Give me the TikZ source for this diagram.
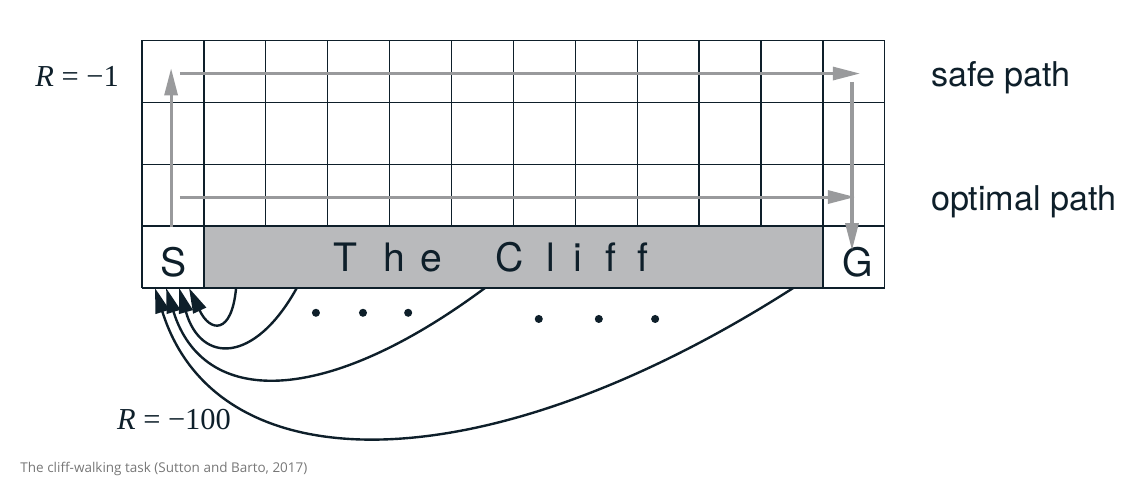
\documentclass[tikz,border=0pt]{standalone}
\usepackage{fontspec}
\newfontfamily\helv{TeX Gyre Heros}
\newfontfamily\tms{Liberation Serif}
\newfontfamily\capfont{Open Sans}
\usetikzlibrary{arrows.meta}
\definecolor{ink}{HTML}{0E1F2A}
\definecolor{cliffgray}{HTML}{B9BABC}
\definecolor{pathgray}{HTML}{999A9C}
\definecolor{capgray}{HTML}{777777}
\tikzset{
  walk/.style={draw=pathgray,line width=1.4pt,-{Triangle[length=12.5pt,width=6pt]}},
  fall/.style={draw=ink,line width=1.1pt,-{Triangle[length=11.5pt,width=6.4pt]}},
  cellText/.style={font=\helv\fontsize{18}{18}\selectfont,text=ink,inner sep=0pt,anchor=base},
  pathLabel/.style={font=\helv\fontsize{15.7}{16}\selectfont,text=ink,inner sep=0pt,anchor=base west},
  reward/.style={font=\tms\fontsize{14}{14}\selectfont,text=ink,inner sep=0pt,anchor=base west}
}

\begin{document}
\begin{tikzpicture}
      \useasboundingbox (-2.294,-3.118) rectangle (16.042,4.653);
      % the grid and the cliff
      \draw[ink,line width=0.6pt] (0,0) grid (12,4);
      \filldraw[fill=cliffgray,draw=ink,line width=0.6pt] (1,0) rectangle (11,1);
      \node[cellText] (start) at (0.51,0.18) {S};
      \node[cellText] (goal) at (11.56,0.18) {G};
      \foreach \x/\c [count=\i] in {3.08/T,3.89/h,4.49/e,5.70/C,6.52/l,6.97/i,7.48/f,8.00/f}
        \node[cellText,anchor=base west] (cliff\i) at (\x,0.26) {\c};
      % labels
      \node[pathLabel] (safe) at (12.74,3.25) {safe path};
      \node[pathLabel] (optimal) at (12.74,1.26) {optimal path};
      \node[reward] (rstep) at (-1.73,3.25) {\textit{R} = −1};
      \node[reward] (rfall) at (-0.41,-2.29) {\textit{R} = −100};
      \node[font=\capfont\fontsize{6.2}{7}\selectfont,text=capgray,anchor=base west,inner sep=0pt]
        (caption) at (-1.97,-2.98) {The cliff-walking task (Sutton and Barto, 2017)};
      % safe and optimal paths
      \coordinate (up0) at (0.47,0.985);
      \coordinate (up1) at (0.47,3.55);
      \coordinate (top0) at (0.61,3.465);
      \coordinate (top1) at (11.60,3.465);
      \coordinate (down0) at (11.47,3.33);
      \coordinate (down1) at (11.47,0.61);
      \coordinate (opt0) at (0.61,1.47);
      \coordinate (opt1) at (11.52,1.47);
      \draw[walk] (up0) -- (up1);
      \draw[walk] (top0) -- (top1);
      \draw[walk] (down0) -- (down1);
      \draw[walk] (opt0) -- (opt1);
      % falling off the cliff
      \coordinate (drop1) at (1.52,0);
      \coordinate (drop2) at (2.50,0);
      \coordinate (drop3) at (5.54,0);
      \coordinate (drop4) at (10.52,0);
      \coordinate (back1) at (0.76,0);
      \coordinate (back2) at (0.60,0);
      \coordinate (back3) at (0.39,0);
      \coordinate (back4) at (0.21,0);
      \draw[fall] (drop1) .. controls (1.45,-0.76) and (1.10,-0.72) .. (back1);
      \draw[fall] (drop2) .. controls (1.82,-1.23) and (0.95,-1.23) .. (back2);
      \draw[fall] (drop3) .. controls (2.94,-1.93) and (0.99,-1.93) .. (back3);
      \draw[fall] (drop4) .. controls (5.52,-3.20) and (1.21,-3.20) .. (back4);
      \foreach \x/\y in {2.81/-0.40,3.57/-0.40,4.30/-0.40,6.41/-0.50,7.38/-0.50,8.29/-0.50}
        \fill[ink] (\x,\y) circle (0.065);
\end{tikzpicture}
\end{document}
